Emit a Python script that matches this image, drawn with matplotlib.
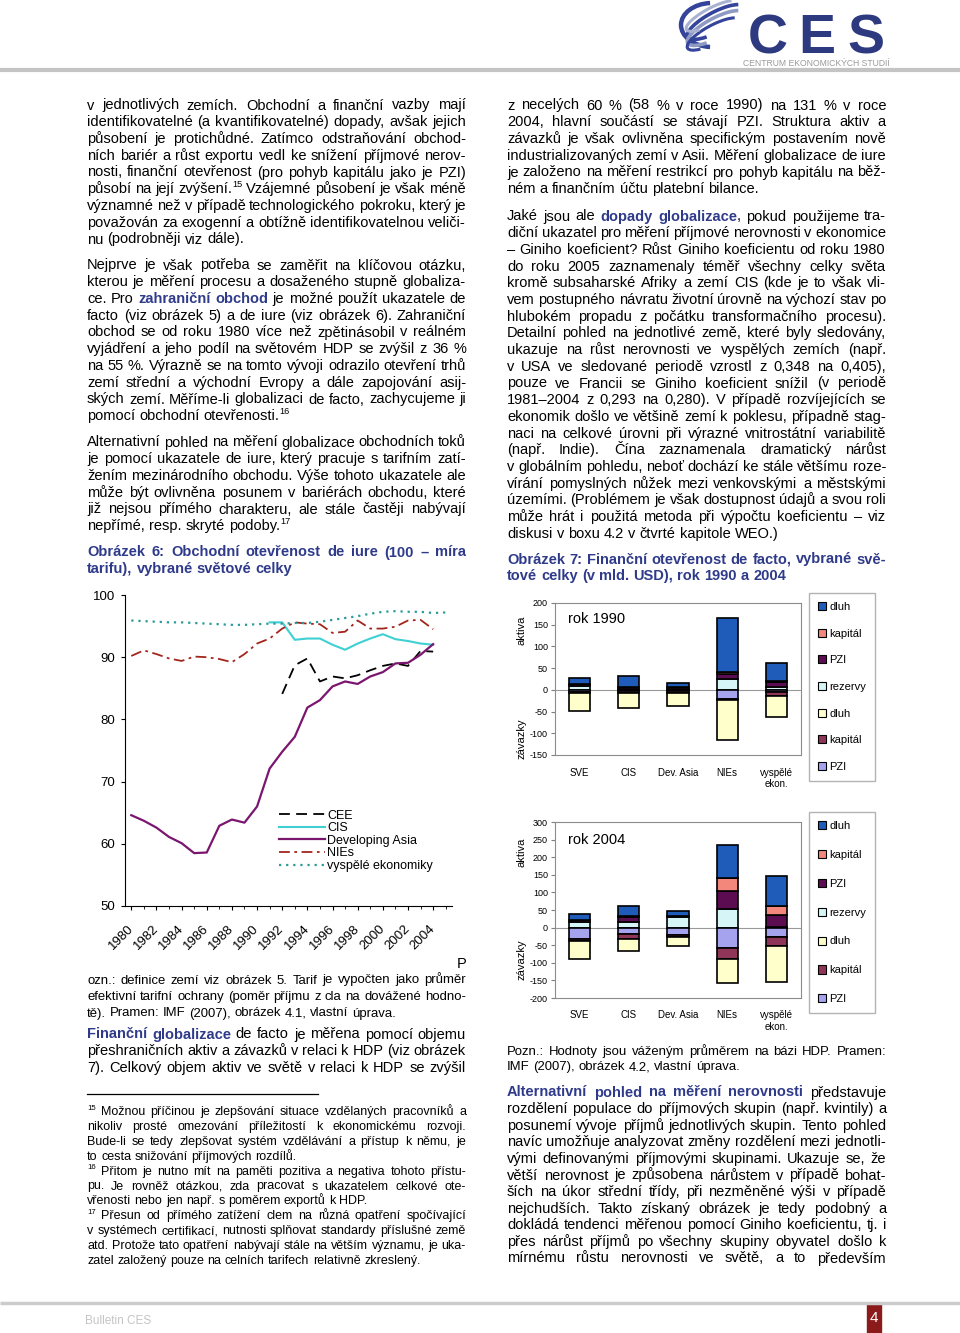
import re
import numpy as np
import matplotlib
matplotlib.use('Agg')
import matplotlib.pyplot as plt
from matplotlib.font_manager import FontProperties
from matplotlib.patches import Rectangle, Arc, Patch

plt.rcParams['font.family'] = ['Liberation Sans', 'DejaVu Sans']
plt.rcParams['axes.unicode_minus'] = False

# ---------------- data: Obrázek 6 (de iure otevřenost) ----------------
years = list(range(1980, 2005))
adv_years = list(range(1980, 2006))
cee_years = list(range(1992, 2005))
cis_years = list(range(1991, 2005))
cee = [84.1, 88.7, 89.8, 86.1, 86.9, 86.6, 87.1, 87.9, 88.6, 89.0, 88.6, 91.0, 90.9]
cis = [95.6, 95.6, 92.8, 93.0, 93.0, 92.0, 91.2, 92.2, 93.0, 93.7, 92.9, 92.6, 92.2, 92.0]
asia = [64.6, 63.7, 62.6, 61.1, 60.1, 58.5, 58.6, 62.9, 63.9, 63.4, 66.0, 72.1, 74.8,
        77.2, 81.9, 83.1, 85.3, 86.1, 85.7, 86.9, 87.6, 89.0, 89.1, 90.4, 92.1]
nies = [90.2, 91.1, 90.5, 89.8, 89.4, 90.1, 90.0, 89.7, 89.2, 90.5, 92.2, 93.0, 94.6,
        95.6, 95.4, 95.3, 93.9, 94.1, 95.9, 94.6, 94.6, 94.9, 95.9, 96.0, 94.5]
adv = [95.9, 95.8, 95.7, 95.6, 95.6, 95.5, 95.4, 95.3, 95.2, 95.2, 95.3, 95.4, 95.4,
       95.5, 95.5, 95.7, 96.0, 96.3, 96.6, 97.0, 97.3, 97.4, 97.3, 97.3, 97.1, 97.2]

# ---------------- data: Obrázek 7 (aktiva / závazky, mld. USD) ----------------
regions = ['SVE', 'CIS', 'Dev. Asia', 'NIEs', 'vyspělé\nekon.']
rez_90 = [10, 1, 2, 25, 6]
pzi_a90 = [3, 5, 5, 12, 12]
kap_a90 = [0, 0, 0, 3, 3]
dluh_a90 = [14, 26, 8, 126, 41]
pzi_z90 = [-5, -2, -3, -20, -6]
kap_z90 = [-3, -5, -4, -3, -8]
dluh_z90 = [-40, -34, -31, -92, -49]

rez_04 = [16, 17, 30, 52, 3]
pzi_a04 = [5, 14, 2, 53, 34]
kap_a04 = [0, 2, 1, 36, 24]
dluh_a04 = [19, 29, 13, 95, 87]
pzi_z04 = [-31, -19, -20, -58, -27]
kap_z04 = [-6, -12, -7, -30, -26]
dluh_z04 = [-52, -36, -26, -69, -101]

legend_labels = ['dluh', 'kapitál', 'PZI', 'rezervy', 'dluh', 'kapitál', 'PZI']
C_DLUH_A, C_KAP_A, C_PZI_A, C_REZ = '#1f5bb8', '#f3877b', '#5c0d52', '#d5f5f7'
C_DLUH_Z, C_KAP_Z, C_PZI_Z = '#ffffcc', '#8e3558', '#a6a3ee'

# ---------------- text ----------------
left_p1 = [
    "v jednotlivých zemích. Obchodní a finanční vazby mají",
    "identifikovatelné (a kvantifikovatelné) dopady, avšak jejich",
    "působení je protichůdné. Zatímco odstraňování obchod-",
    "ních bariér a růst exportu vedl ke snížení příjmové nerov-",
    "nosti, finanční otevřenost (pro pohyb kapitálu jako je PZI)",
    "působí na její zvýšení.^15^ Vzájemné působení je však méně",
    "významné než v případě technologického pokroku, který je",
    "považován za exogenní a obtížně identifikovatelnou veliči-",
    "nu (podrobněji viz dále).",
]
left_p2 = [
    "Nejprve je však potřeba se zaměřit na klíčovou otázku,",
    "kterou je měření procesu a dosaženého stupně globaliza-",
    "ce. Pro *zahraniční obchod* je možné použít ukazatele de",
    "facto (viz obrázek 5) a de iure (viz obrázek 6). Zahraniční",
    "obchod se od roku 1980 více než zpětinásobil v reálném",
    "vyjádření a jeho podíl na světovém HDP se zvýšil z 36 %",
    "na 55 %. Výrazně se na tomto vývoji odrazilo otevření trhů",
    "zemí střední a východní Evropy a dále zapojování asij-",
    "ských zemí. Měříme-li globalizaci de facto, zachycujeme ji",
    "pomocí obchodní otevřenosti.^16^",
]
left_p3 = [
    "Alternativní pohled na měření globalizace obchodních toků",
    "je pomocí ukazatele de iure, který pracuje s tarifním zatí-",
    "žením mezinárodního obchodu. Výše tohoto ukazatele ale",
    "může být ovlivněna posunem v bariérách obchodu, které",
    "již nejsou přímého charakteru, ale stále častěji nabývají",
    "nepřímé, resp. skryté podoby.^17^",
]
cap6 = ["Obrázek 6: Obchodní otevřenost de iure (100 – míra",
        "tarifu), vybrané světové celky"]
note6 = [
    "ozn.: definice zemí viz obrázek 5. Tarif je vypočten jako průměr",
    "efektivní tarifní ochrany (poměr příjmu z cla na dovážené hodno-",
    "tě). Pramen: IMF (2007), obrázek 4.1, vlastní úprava.",
]
left_p4 = [
    "*Finanční globalizace* de facto je měřena pomocí objemu",
    "přeshraničních aktiv a závazků v relaci k HDP (viz obrázek",
    "7). Celkový objem aktiv ve světě v relaci k HDP se zvýšil",
]
footnotes = [
    ("^15^ Možnou příčinou je zlepšování situace vzdělaných pracovníků a", True),
    ("nikoliv prosté omezování příležitostí k ekonomickému rozvoji.", True),
    ("Bude-li se tedy zlepšovat systém vzdělávání a přístup k němu, je", True),
    ("to cesta snižování příjmových rozdílů.", False),
    ("^16^ Přitom je nutno mít na paměti pozitiva a negativa tohoto přístu-", True),
    ("pu. Je rovněž otázkou, zda pracovat s ukazatelem celkové ote-", True),
    ("vřenosti nebo jen např. s  poměrem exportů k HDP.", False),
    ("^17^ Přesun od přímého zatížení clem na různá opatření spočívající", True),
    ("v systémech certifikací, nutnosti splňovat standardy příslušné země", True),
    ("atd. Protože tato opatření nabývají stále na větším významu, je uka-", True),
    ("zatel založený pouze na celních tarifech relativně zkreslený.", False),
]
right_p1 = [
    "z necelých 60 % (58 % v roce 1990) na 131 % v roce",
    "2004, hlavní součástí se stávají PZI. Struktura aktiv a",
    "závazků je však ovlivněna specifickým postavením nově",
    "industrializovaných zemí v Asii. Měření globalizace de iure",
    "je založeno na měření restrikcí pro pohyb kapitálu na běž-",
    "ném a finančním účtu platební bilance.",
]
right_p2 = [
    "Jaké jsou ale *dopady globalizace*, pokud použijeme tra-",
    "diční ukazatel pro měření příjmové nerovnosti v ekonomice",
    "– Giniho koeficient? Růst Giniho koeficientu od roku 1980",
    "do roku 2005 zaznamenaly téměř všechny celky světa",
    "kromě subsaharské Afriky a zemí CIS (kde je to však vli-",
    "vem postupného návratu životní úrovně na výchozí stav po",
    "hlubokém propadu z počátku transformačního procesu).",
    "Detailní pohled na jednotlivé země, které byly sledovány,",
    "ukazuje na růst nerovnosti ve vyspělých zemích (např.",
    "v USA ve sledované periodě vzrostl z 0,348 na 0,405),",
    "pouze ve Francii se Giniho koeficient snížil (v periodě",
    "1981–2004 z 0,293 na 0,280). V případě rozvíjejících se",
    "ekonomik došlo ve většině zemí k poklesu, případně stag-",
    "naci na celkové úrovni při výrazné vnitrostátní variabilitě",
    "(např. Indie). Čína zaznamenala dramatický nárůst",
    "v globálním pohledu, neboť dochází ke stále většímu roze-",
    "vírání pomyslných nůžek mezi venkovskými a městskými",
    "územími. (Problémem je však dostupnost údajů a svou roli",
    "může hrát i použitá metoda při výpočtu koeficientu – viz",
    "diskusi v boxu 4.2 v čtvrté kapitole WEO.)",
]
cap7 = ["Obrázek 7: Finanční otevřenost de facto, vybrané svě-",
        "tové celky (v mld. USD), rok 1990 a 2004"]
note7 = ["Pozn.: Hodnoty jsou váženým průměrem na bázi HDP. Pramen:",
         "IMF (2007), obrázek 4.2, vlastní úprava."]
right_p3 = [
    "*Alternativní pohled na měření nerovnosti* představuje",
    "rozdělení populace do příjmových skupin (např. kvintily) a",
    "posunemí vývoje příjmů jednotlivých skupin. Tento pohled",
    "navíc umožňuje analyzovat změny rozdělení mezi jednotli-",
    "vými definovanými příjmovými skupinami. Ukazuje se, že",
    "větší nerovnost je způsobena nárůstem v případě bohat-",
    "ších na úkor střední třídy, při nezměněné výši v případě",
    "nejchudších. Takto získaný obrázek je tedy podobný a",
    "dokládá tendenci měřenou pomocí Giniho koeficientu, tj. i",
    "přes nárůst příjmů po všechny skupiny obyvatel došlo k",
    "mírnému růstu nerovnosti ve světě, a to především",
]

W, H = 960, 1333
NAVY = '#2f3b8a'

fig = plt.figure(figsize=(9.6, 13.33), dpi=100)
bg = fig.add_axes([0, 0, 1, 1])
bg.set_xlim(0, W)
bg.set_ylim(H, 0)
bg.axis('off')
renderer = fig.canvas.get_renderer()


def fprop(size, bold=False):
    return FontProperties(family='Liberation Sans', size=size,
                          weight='bold' if bold else 'normal')


def tw(s, prop):
    return renderer.get_text_width_height_descent(s, prop, ismath=False)[0]


def parse(line, bold_all=False):
    kind = 'b' if bold_all else 'n'
    runs = []
    for part in re.split(r'(\*|\^)', line):
        if part == '*':
            kind = 'n' if kind == 'b' else 'b'
            continue
        if part == '^':
            kind = 'n' if kind == 's' else 's'
            continue
        if part:
            runs.append((part, kind))
    words = [[]]
    for text, k in runs:
        for j, p in enumerate(text.split(' ')):
            if j > 0:
                words.append([])
            if p:
                words[-1].append((p, k))
    return [w for w in words if w]


def piece_prop(k, size):
    if k == 's':
        return fprop(size * 0.62)
    return fprop(size, bold=(k == 'b'))


def space_w(size):
    return tw('a a', fprop(size)) - tw('aa', fprop(size))


def fit_size(line, width, ref=10.0):
    # font size at which a tightly set reference line fills the column
    words = parse(line)
    w = sum(tw(t, piece_prop(k, ref)) for wd in words for t, k in wd)
    w += space_w(ref) * (len(words) - 1)
    return ref * width / w * 0.995


def draw_line(x0, x1, base, line, size, justify, bold_all=False):
    words = parse(line, bold_all)
    widths = [[tw(t, piece_prop(k, size)) for t, k in w] for w in words]
    totals = [sum(ws) for ws in widths]
    if justify and len(words) > 1:
        gap = (x1 - x0 - sum(totals)) / (len(words) - 1)
    else:
        gap = space_w(size)
    x = x0
    for w, ws in zip(words, widths):
        for (t, k), wd in zip(w, ws):
            dy = -size * 0.42 * 100 / 72 if k == 's' else 0
            bg.text(x, base + dy, t, fontproperties=piece_prop(k, size),
                    color=NAVY if k == 'b' else 'black', va='baseline', ha='left')
            x += wd
        x += gap


LX0, LX1, RX0, RX1 = 87, 466, 507, 886
COLW = LX1 - LX0
BODY = fit_size("identifikovatelné (a kvantifikovatelné) dopady, avšak jejich", COLW)
FOOT = fit_size("atd. Protože tato opatření nabývají stále na větším významu, je uka-", COLW)
NOTE = fit_size("efektivní tarifní ochrany (poměr příjmu z cla na dovážené hodno-", COLW)


def para(x0, x1, base0, step, lines, size=None, last_just=False, bold_all=False):
    size = BODY if size is None else size
    for i, ln in enumerate(lines):
        just = last_just or i < len(lines) - 1
        draw_line(x0, x1, base0 + i * step, ln, size, just, bold_all)


# left column
para(LX0, LX1, 109.5, 16.75, left_p1)
para(LX0, LX1, 269.5, 16.75, left_p2)
para(LX0, LX1, 446.5, 16.75, left_p3)
para(LX0, LX1, 556.5, 16.6, cap6, bold_all=True)
bg.text(466, 967.5, 'P', fontproperties=fprop(BODY), ha='right', va='baseline')
para(LX0, LX1, 983.5, 16.5, note6, size=NOTE)
para(LX0, LX1, 1038.5, 16.75, left_p4, last_just=True)
bg.plot([87, 318], [1094, 1094], color='black', lw=0.9)
for i, (ln, just) in enumerate(footnotes):
    draw_line(LX0, LX1, 1115 + i * 14.9, ln, FOOT, just)

# right column
para(RX0, RX1, 109.5, 16.75, right_p1)
para(RX0, RX1, 220.5, 16.7, right_p2)
para(RX0, RX1, 563.5, 16.6, cap7, bold_all=True)
para(RX0, RX1, 1055, 15.2, note7, size=NOTE)
para(RX0, RX1, 1096.5, 16.6, right_p3, last_just=True)

# header
bg.plot([0, W], [70, 70], color='#c4c4c4', lw=3, solid_capstyle='butt')
for ch, cx in zip('CES', [768, 817, 866]):
    bg.text(cx, 53, ch, ha='center', va='baseline', fontsize=40, fontweight='bold',
            color='#2d3a80')
bg.text(816, 66.5, 'CENTRUM EKONOMICKÝCH STUDIÍ', ha='center', va='baseline',
        fontsize=6.2, color='#9a9a9a')
swoosh = [
    ((712, 25), 62, 44, 0, 95, 265, '#34449a', 3.2),
    ((716, 22), 64, 20, -28, 150, 350, '#34449a', 2.6),
    ((716, 28), 64, 20, -28, 150, 350, '#8f9ac4', 2.6),
    ((714, 34), 60, 18, -28, 160, 350, '#34449a', 2.2),
    ((712, 16), 58, 16, -28, 160, 350, '#aab2d2', 2.2),
]
for c, w_, h_, ang, t1, t2, col, lw in swoosh:
    bg.add_patch(Arc(c, w_, h_, angle=ang, theta1=t1, theta2=t2, color=col, lw=lw))

# footer
bg.plot([0, W], [1303, 1303], color='#cccccc', lw=2.5, solid_capstyle='butt')
bg.text(85, 1324, 'Bulletin CES', fontsize=8.5, color='#c4c4c4', va='baseline')
bg.add_patch(Rectangle((867, 1303), 14, 30, color='#8b1a1a'))
bg.text(874, 1318, '4', color='white', fontsize=11, ha='center', va='center')

# ---------------- Obrázek 6: line chart ----------------
ax1 = fig.add_axes([125 / W, 1 - 906 / H, 327 / W, 311 / H])
ax1.plot(cee_years, cee, color='black', lw=1.3, ls=(0, (6, 3.5)), label='CEE')
ax1.plot(cis_years, cis, color='#3fd0d4', lw=1.5, label='CIS')
ax1.plot(years, asia, color='#7b166f', lw=1.6, label='Developing Asia')
ax1.plot(years, nies, color='#a3261c', lw=1.3, ls=(0, (6, 2.5, 1.5, 2.5)), label='NIEs')
ax1.plot(adv_years, adv, color='#2c9a9a', lw=1.6, ls=(0, (1, 2.2)), label='vyspělé ekonomiky')
ax1.set_xlim(1979.5, 2005.5)
ax1.set_ylim(50, 100)
ax1.set_yticks(range(50, 101, 10))
ax1.set_xticks(range(1980, 2005, 2))
ax1.set_xticks(range(1980, 2006), minor=True)
ax1.spines[['top', 'right']].set_visible(False)
ax1.tick_params(axis='y', labelsize=9.5, length=3, pad=4)
ax1.tick_params(axis='x', which='major', labelsize=9.5, length=3, pad=12)
ax1.tick_params(axis='x', which='minor', length=2)
for lab in ax1.get_xticklabels():
    lab.set_rotation(45)
    lab.set_ha('right')
    lab.set_va('center')
    lab.set_rotation_mode('anchor')
ax1.legend(loc='upper left', bbox_to_anchor=(0.47, 0.31), frameon=False, fontsize=9,
           handlelength=3.7, handletextpad=0.2, labelspacing=0.05, borderpad=0,
           borderaxespad=0)


# ---------------- Obrázek 7: stacked bars ----------------
def bar_panel(top, bottom, pos_series, neg_series, ylim, title, lab_y, spacing):
    ax = fig.add_axes([555 / W, 1 - bottom / H, 246 / W, (bottom - top) / H])
    x = np.arange(len(regions))
    acc = np.zeros(len(regions))
    for vals, col in pos_series:
        ax.bar(x, vals, bottom=acc, width=0.43, color=col, edgecolor='black', lw=1.2, zorder=3)
        acc = acc + np.array(vals)
    acc = np.zeros(len(regions))
    for vals, col in neg_series:
        ax.bar(x, vals, bottom=acc, width=0.43, color=col, edgecolor='black', lw=1.2, zorder=3)
        acc = acc + np.array(vals)
    ax.axhline(0, color='#999999', lw=0.8, zorder=1)
    ax.set_xlim(-0.5, len(regions) - 0.5)
    ax.set_ylim(*ylim)
    ax.set_yticks(range(ylim[0], ylim[1] + 1, 50))
    ax.set_xticks(x, regions)
    ax.tick_params(axis='y', labelsize=6.5, length=3, pad=2, color='#808080')
    ax.tick_params(axis='x', labelsize=7, length=0, pad=9)
    for s in ax.spines.values():
        s.set_color('#8c8c8c')
    ax.text(0.053, 0.895, title, transform=ax.transAxes, fontsize=10.5, va='center')
    ax.text(-0.135, lab_y[0], 'aktiva', transform=ax.transAxes, rotation=90,
            fontsize=8, ha='center', va='center')
    ax.text(-0.135, lab_y[1], 'závazky', transform=ax.transAxes, rotation=90,
            fontsize=8, ha='center', va='center')
    colors = [C_DLUH_A, C_KAP_A, C_PZI_A, C_REZ, C_DLUH_Z, C_KAP_Z, C_PZI_Z]
    handles = [Patch(facecolor=c, edgecolor='black', lw=0.8) for c in colors]
    leg = ax.legend(handles, legend_labels, loc='upper left',
                    bbox_to_anchor=((809 - 555) / 246, 1 + 10 / (bottom - top)),
                    fontsize=8, fancybox=False, edgecolor='#a0a0a0', handlelength=0.75,
                    handleheight=0.75, handletextpad=0.3, labelspacing=spacing,
                    borderpad=0.8, borderaxespad=0)
    leg.get_frame().set_linewidth(1.0)
    return ax


bar_panel(603, 755,
          [(rez_90, C_REZ), (pzi_a90, C_PZI_A), (kap_a90, C_KAP_A), (dluh_a90, C_DLUH_A)],
          [(pzi_z90, C_PZI_Z), (kap_z90, C_KAP_Z), (dluh_z90, C_DLUH_Z)],
          (-150, 200), 'rok 1990', (0.82, 0.11), 1.5)
bar_panel(822, 998,
          [(rez_04, C_REZ), (pzi_a04, C_PZI_A), (kap_a04, C_KAP_A), (dluh_a04, C_DLUH_A)],
          [(pzi_z04, C_PZI_Z), (kap_z04, C_KAP_Z), (dluh_z04, C_DLUH_Z)],
          (-200, 300), 'rok 2004', (0.83, 0.22), 1.7)

fig.savefig('out.png', dpi=100)
